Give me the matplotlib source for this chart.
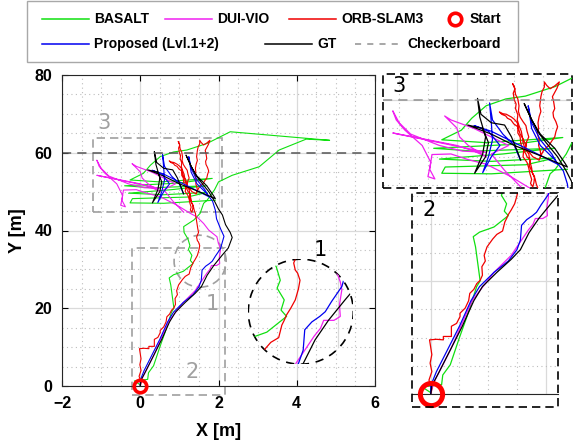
import matplotlib
matplotlib.use("Agg")
import matplotlib.pyplot as plt
from matplotlib.lines import Line2D
from matplotlib.patches import Rectangle, Circle, Ellipse
from matplotlib.ticker import MultipleLocator

plt.rcParams['font.family'] = ['Liberation Sans', 'DejaVu Sans']

# ---- trajectories (x [m], y [m]) ----
gt_x = [0.00, 0.02, 0.15, 0.35, 0.55, 0.75, 0.90, 1.15, 1.40, 1.56, 1.71, 1.88, 2.09, 2.25, 2.35, 2.30,
        2.18, 2.10, 2.00, 1.90, 1.75, 1.55, 1.40, 1.28, 1.17, 1.30, 1.45, 1.70, 1.87, 1.92, 1.50, 1.00,
        0.60, 0.19, 0.45, 0.55, 0.50, 0.31, 0.45, 0.50, 0.40, 0.36, 0.42, 0.60, 0.83, 0.95, 1.05, 1.11]
gt_y = [0.0, 1.5, 4.0, 8.0, 12.0, 16.5, 19.0, 21.5, 23.8, 25.5, 28.5, 31.0, 33.6, 35.5, 38.2, 39.5,
        41.5, 44.0, 45.5, 47.5, 50.0, 52.5, 54.5, 57.0, 59.4, 56.5, 54.0, 51.5, 49.0, 48.2, 50.0, 52.0,
        54.0, 55.6, 55.0, 52.5, 50.0, 47.1, 50.5, 53.5, 57.0, 60.3, 57.5, 56.0, 55.6, 53.5, 51.0, 49.4]

prop_x = [0.00, 0.00, 0.10, 0.30, 0.50, 0.70, 0.85, 1.10, 1.35, 1.50, 1.56, 1.58, 1.67, 1.77, 1.84, 1.92,
          2.05, 2.14, 2.05, 1.95, 1.92, 1.85, 1.70, 1.45, 1.30, 1.24, 1.30, 1.45, 1.65, 1.75, 1.40, 1.00,
          0.60, 0.30, 0.55, 0.75, 0.60, 0.45, 0.55, 0.62, 0.60, 0.57, 0.62, 0.80, 1.00, 1.10]
prop_y = [0.0, 1.5, 4.0, 8.0, 12.0, 16.5, 19.0, 21.5, 23.5, 25.5, 27.2, 29.8, 30.8, 31.5, 32.1, 33.4,
          35.3, 38.5, 40.5, 43.0, 45.2, 47.5, 49.5, 52.0, 55.0, 59.0, 56.0, 53.0, 50.5, 48.7, 50.5, 52.5,
          54.5, 55.5, 54.5, 52.0, 50.0, 47.2, 50.0, 53.0, 56.0, 59.5, 56.5, 54.0, 52.0, 49.5]

basalt_x = [0.00, -0.15, 0.19, 0.21, 0.34, 0.50, 0.63, 0.72, 0.80, 0.86, 0.82, 0.78, 0.74, 0.85, 1.10,
            1.35, 1.28, 1.32, 1.23, 1.27, 1.22, 1.12, 1.11, 1.37, 1.53, 1.62, 1.71, 1.90, 2.00, 2.35,
            3.04, 3.55, 4.24, 4.84, 2.30, 1.71, 1.19, 0.85, 0.51, 0.26, 0.08, -0.26, 0.50, 1.84, 1.00,
            -0.40, 0.30, 1.70, 0.80, -0.30, 0.60, 1.71, 1.20, -0.20, -0.26, 0.60, 1.92]
basalt_y = [0.3, 1.3, 1.7, 3.4, 5.2, 10.0, 13.7, 16.5, 19.0, 20.0, 23.0, 26.0, 27.8, 28.6, 29.5,
            31.5, 32.3, 33.6, 35.1, 36.1, 37.8, 39.5, 41.0, 42.7, 44.4, 47.0, 47.8, 50.5, 52.5, 54.2,
            56.4, 60.7, 63.5, 63.2, 65.4, 62.4, 60.7, 60.2, 59.0, 56.8, 54.7, 53.0, 52.5, 53.4, 52.2,
            51.5, 51.0, 51.5, 50.5, 49.6, 49.2, 49.8, 48.6, 48.2, 47.1, 47.0, 47.8]

dui_x = [0.00, 0.05, 0.35, 0.72, 1.10, 1.40, 1.60, 1.70, 1.78, 1.82, 1.95, 2.03, 2.02, 2.05, 2.03, 1.99,
         1.96, 1.75, 1.62, 1.45, 1.28, 0.94, 0.51, 0.20, -0.10, -0.43, -0.47, -0.38, -0.50, -0.45, -0.60,
         -0.90, -1.05, -1.11, -1.00, -0.80, -0.60, -0.30, 0.10, 0.51, -0.30, -1.11, -0.50, 0.00, 0.30,
         0.51, 0.20, 0.05, 0.00, -0.21, -0.10, 0.30, 0.60, 0.90, 0.60, 0.83, 1.11]
dui_y = [0.0, 2.0, 8.0, 16.5, 21.5, 24.5, 27.5, 29.0, 30.0, 31.0, 31.0, 31.5, 33.0, 34.9, 35.9, 37.0,
         38.4, 40.1, 41.8, 43.5, 44.4, 46.5, 48.7, 49.5, 50.5, 50.4, 47.8, 46.1, 46.5, 49.0, 52.0,
         54.7, 56.5, 58.1, 56.0, 54.0, 53.2, 52.0, 51.0, 50.8, 52.5, 54.2, 53.0, 52.0, 51.0,
         50.0, 52.0, 53.5, 55.1, 57.2, 56.5, 55.0, 53.5, 52.0, 50.5, 47.6, 44.7]

orb_x = [0.00, 0.02, -0.03, 0.02, -0.01, 0.02, -0.02, 0.10, 0.22, 0.22, 0.36, 0.36, 0.45, 0.51, 0.51,
         0.60, 0.66, 0.68, 0.75, 0.80, 0.86, 0.90, 0.89, 0.95, 0.93, 0.98, 1.08, 1.15, 1.20, 1.25, 1.29,
         1.32, 1.35, 1.40, 1.46, 1.50, 1.52, 1.49, 1.46, 1.44, 1.49, 1.47, 1.45, 1.43, 1.41, 1.38, 1.36,
         1.32, 1.30, 1.26, 1.28, 1.22, 1.20, 1.14, 1.11, 1.10, 1.06, 1.06, 0.99, 0.94, 0.88, 0.85, 0.78,
         0.74, 0.80, 0.86, 0.95, 1.00, 1.05, 1.07, 1.10, 1.15, 1.20, 1.16, 1.15, 1.22, 1.25, 1.27, 1.30,
         1.28, 1.32, 1.34, 1.35, 1.31, 1.30, 1.27, 1.25, 1.19, 1.15, 1.14, 1.12, 1.08, 1.05, 1.06, 1.02,
         1.03, 1.00, 0.98, 1.01, 0.97, 1.00, 1.02, 1.06, 1.08, 1.07, 1.10, 1.15, 1.20, 1.22, 1.25, 1.21,
         1.20, 1.26, 1.32, 1.38, 1.43, 1.46, 1.45, 1.42, 1.43, 1.40, 1.42, 1.41, 1.43, 1.46, 1.44, 1.46,
         1.48, 1.52, 1.52, 1.56, 1.62, 1.70, 1.78, 1.74, 1.66, 1.68, 1.70, 1.67, 1.68, 1.72, 1.75, 1.72,
         1.70, 1.65, 1.60, 1.55, 1.50, 1.45]
orb_y = [0.0, 1.0, 2.5, 4.0, 5.5, 7.0, 9.6, 9.7, 9.6, 10.2, 10.2, 12.0, 12.5, 13.7, 14.3,
         15.2, 16.5, 17.8, 18.5, 19.5, 20.1, 21.0, 22.5, 23.5, 24.5, 26.0, 27.4, 28.2, 28.5, 28.8, 30.4,
         31.0, 31.7, 32.5, 33.6, 35.0, 36.1, 37.0, 37.4, 38.3, 39.5, 40.5, 41.8, 43.0, 44.4, 45.2, 46.1,
         47.0, 47.5, 48.4, 49.4, 50.0, 50.5, 51.5, 52.4, 53.5, 54.2, 55.3, 55.8, 56.5, 56.8, 57.2, 57.5,
         57.9, 57.6, 57.5, 57.0, 56.6, 56.0, 55.0, 54.0, 53.2, 52.0, 51.0, 50.0, 49.0, 48.0, 47.0, 46.0,
         45.3, 44.7, 45.5, 46.5, 47.2, 48.0, 49.2, 50.5, 51.3, 52.5, 53.4, 54.5, 55.5, 56.5, 57.4, 58.5,
         59.3, 60.0, 61.2, 62.0, 62.9, 62.3, 61.0, 60.2, 59.0, 58.0, 57.0, 56.2, 55.5, 54.5, 53.5, 52.6,
         51.5, 50.8, 50.0, 49.7, 49.4, 50.2, 51.0, 52.0, 53.0, 54.1, 55.0, 56.0, 57.1, 58.0, 59.0, 60.6,
         61.5, 62.3, 63.2, 62.6, 62.0, 62.5, 63.2, 62.1, 60.6, 59.8, 58.5, 57.8, 57.0, 56.2, 55.3, 54.4,
         53.5, 52.8, 52.0, 51.6, 51.0, 50.0]

checker_y = 60

series = [(basalt_x, basalt_y, '#10e010', 'BASALT'),
          (dui_x, dui_y, '#f020f0', 'DUI-VIO'),
          (orb_x, orb_y, '#f00000', 'ORB-SLAM3'),
          (prop_x, prop_y, '#0000f0', 'Proposed (Lvl.1+2)'),
          (gt_x, gt_y, 'black', 'GT')]

W, H = 573, 443
fig = plt.figure(figsize=(W / 100, H / 100), dpi=100)


def fx(px):
    return px / W


def fy(py):
    return 1 - py / H


def px_axes(l, t, r, b):
    return fig.add_axes([fx(l), fy(b), (r - l) / W, (b - t) / H])


def style_grid(ax):
    ax.xaxis.set_major_locator(MultipleLocator(2))
    ax.xaxis.set_minor_locator(MultipleLocator(0.5))
    ax.yaxis.set_major_locator(MultipleLocator(20))
    ax.yaxis.set_minor_locator(MultipleLocator(5))
    ax.grid(True, which='major', color='#dadada', lw=0.9)
    ax.grid(True, which='minor', color='#bdbdbd', lw=0.8, ls=(0, (1, 3)))
    ax.set_axisbelow(True)


def draw_series(ax, lw=0.8, clip=None):
    for sx, sy, c, _ in series:
        ln, = ax.plot(sx, sy, color=c, lw=lw)
        if clip is not None:
            ln.set_clip_path(clip)


# ---- main axes ----
ax = px_axes(62, 75, 375, 386)
style_grid(ax)
draw_series(ax)
ax.axhline(checker_y, color='#555555', lw=1.1, ls=(0, (6, 4)))
ax.set_xlim(-2, 6)
ax.set_ylim(0, 80)
ax.tick_params(which='major', direction='in', length=4, top=True, right=True,
               labelsize=11.5, pad=7, width=0.8)
ax.tick_params(which='minor', length=0)
for lab in ax.get_xticklabels() + ax.get_yticklabels():
    lab.set_fontweight('bold')
for sp in ax.spines.values():
    sp.set_color('#262626')
    sp.set_linewidth(0.8)
ax.set_xlabel('X [m]', fontsize=13, fontweight='bold', labelpad=9)
ax.set_ylabel('Y [m]', fontsize=13, fontweight='bold', labelpad=6)

gray = '#a0a0a0'
ax.add_patch(Rectangle((-1.22, 44.7), 3.31, 19.2, fill=False, ec=gray, lw=1.2, ls=(0, (5, 3))))
ax.add_patch(Rectangle((-0.21, -2.3), 2.38, 37.9, fill=False, ec=gray, lw=1.2, ls=(0, (5, 3)),
                       clip_on=False))
ax.add_patch(Ellipse((1.53, 32.1), 2 * 0.665, 2 * 6.68, fill=False, ec=gray, lw=1.2, ls=(0, (5, 3))))
ax.text(-0.92, 67.7, '3', color=gray, fontsize=15, family='DejaVu Sans', ha='center', va='center')
ax.text(1.33, 3.5, '2', color=gray, fontsize=15, family='DejaVu Sans', ha='center', va='center')
ax.text(1.84, 21.0, '1', color=gray, fontsize=15, family='DejaVu Sans', ha='center', va='center')
ax.text(4.6, 35.1, '1', color='black', fontsize=15, family='DejaVu Sans', ha='center', va='center')
ax.plot(0, 0, 'o', ms=9, mfc='none', mec='red', mew=2.6, clip_on=False, zorder=5)

# ---- inset 1 (circle zoom) ----
a1 = px_axes(248.3, 259.2, 353.3, 364.2)
a1.set_xlim(1.53 - 0.665, 1.53 + 0.665)
a1.set_ylim(32.1 - 6.68, 32.1 + 6.68)
a1.axis('off')
circ = Circle((0.5, 0.5), 0.5, transform=a1.transAxes, fill=False, ec='black', lw=1.2,
              ls=(0, (5, 4)))
a1.add_patch(circ)
vl = a1.axvline(2.0, color='#dadada', lw=0.9)
vl.set_clip_path(circ)
draw_series(a1, lw=0.9, clip=circ)

# ---- inset 3 (checkerboard area) ----
a3 = px_axes(383, 74, 572, 188)
style_grid(a3)
draw_series(a3, lw=0.9)
a3.axhline(checker_y, color='#909090', lw=1.1, ls=(0, (6, 4)))
a3.set_xlim(-1.28, 2.0)
a3.set_ylim(44.5, 64.6)
a3.tick_params(which='both', length=0, labelbottom=False, labelleft=False)
for sp in a3.spines.values():
    sp.set_visible(False)
a3.add_patch(Rectangle((0, 0), 1, 1, transform=a3.transAxes, fill=False, ec='black', lw=1.2,
                       ls=(0, (5, 3)), clip_on=False))
fig.text(fx(399), fy(86), '3', fontsize=15, family='DejaVu Sans', ha='center', va='center')

# ---- inset 2 (start area) ----
a2 = px_axes(412, 193, 558, 394.3)
style_grid(a2)
draw_series(a2, lw=0.9)
a2.set_xlim(-0.325, 2.214)
a2.set_ylim(0, 35.5)
a2.tick_params(which='both', length=0, labelbottom=False, labelleft=False)
for k, sp in a2.spines.items():
    sp.set_visible(k == 'bottom')
a2.spines['bottom'].set_color('#262626')
a2.plot(0, 0, 'o', ms=16, mfc='none', mec='red', mew=3.6, clip_on=False, zorder=5)
fig.add_artist(Rectangle((fx(412.3), fy(406.7)), (558 - 412.3) / W, (406.7 - 192.7) / H,
                         transform=fig.transFigure, fill=False, ec='black', lw=1.2,
                         ls=(0, (5, 3))))
fig.text(fx(429), fy(210), '2', fontsize=15, family='DejaVu Sans', ha='center', va='center')

# ---- legend (drawn by hand to keep its two-row flow layout) ----
fig.add_artist(Rectangle((fx(27), fy(62)), (518 - 27) / W, 61 / H, transform=fig.transFigure,
                         fc='white', ec='#a8a8a8', lw=1))
legend_rows = [
    (19, [(42, 'BASALT', '#10e010', '-'), (165, 'DUI-VIO', '#f020f0', '-'),
          (289, 'ORB-SLAM3', '#f00000', '-')]),
    (44, [(42, 'Proposed (Lvl.1+2)', '#0000f0', '-'), (265, 'GT', 'black', '-'),
          (355, 'Checkerboard', '#909090', (0, (4, 4)))]),
]
for yy, items in legend_rows:
    for x0, name, c, ls in items:
        fig.add_artist(Line2D([fx(x0), fx(x0 + 47)], [fy(yy), fy(yy)], transform=fig.transFigure,
                              color=c, lw=1.1, ls=ls))
        fig.text(fx(x0 + 52), fy(yy), name, fontsize=10, fontweight='bold', ha='left', va='center')
fig.add_artist(Line2D([fx(455)], [fy(19)], transform=fig.transFigure, marker='o', ms=9,
                      mfc='none', mec='red', mew=2.6))
fig.text(fx(470), fy(19), 'Start', fontsize=10, fontweight='bold', ha='left', va='center')

fig.savefig('out.png', dpi=100)
